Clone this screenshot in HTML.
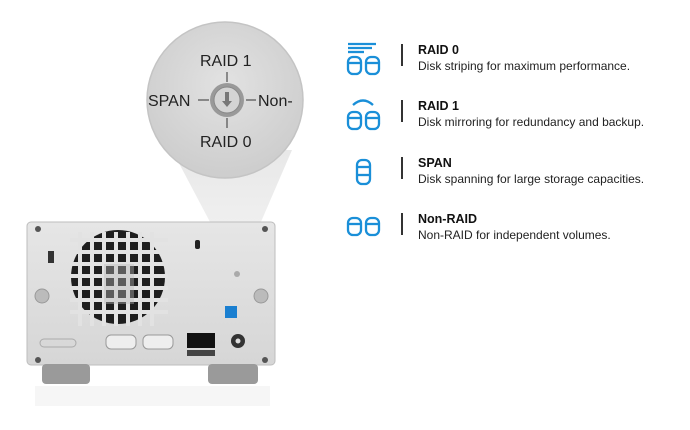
<!DOCTYPE html>
<html><head><style>
body{margin:0;width:690px;height:430px;background:#fff;overflow:hidden;font-family:"Liberation Sans",sans-serif;position:relative}
.t{position:absolute;left:418px;font-size:12px;color:#222;line-height:16px}
.t b{display:block;font-size:12.5px;color:#111}
.d{position:absolute;left:401px;width:1.5px;height:22px;background:#333}
</style></head><body>
<svg width="690" height="430" style="position:absolute;left:0;top:0">
<defs>
<radialGradient id="cg" cx="50%" cy="40%" r="60%"><stop offset="0" stop-color="#e2e2e2"/><stop offset="1" stop-color="#cdcdcd"/></radialGradient>
<linearGradient id="cone" x1="0" y1="0" x2="0" y2="1"><stop offset="0" stop-color="#e8e8e8"/><stop offset="1" stop-color="#f4f4f4"/></linearGradient>
<linearGradient id="body" x1="0" y1="0" x2="0" y2="1"><stop offset="0" stop-color="#e6e6e6"/><stop offset="1" stop-color="#d6d6d6"/></linearGradient>
</defs>
<polygon points="172,150 292,150 238,275" fill="url(#cone)"/>
<rect x="27" y="222" width="248" height="143" rx="4" fill="url(#body)" stroke="#bdbdbd"/>
<rect x="42" y="364" width="48" height="20" rx="4" fill="#9a9a9a"/>
<rect x="208" y="364" width="50" height="20" rx="4" fill="#9a9a9a"/>
<rect x="35" y="386" width="235" height="20" fill="#f6f6f6"/>
<circle cx="118" cy="277" r="47" fill="#1e1e1e"/>
<g stroke="#e2e2e2" stroke-width="4">
<line x1="80" y1="232" x2="80" y2="326"/><line x1="92" y1="232" x2="92" y2="326"/><line x1="104" y1="232" x2="104" y2="326"/><line x1="116" y1="232" x2="116" y2="326"/><line x1="128" y1="232" x2="128" y2="326"/><line x1="140" y1="232" x2="140" y2="326"/><line x1="152" y1="232" x2="152" y2="326"/>
<line x1="70" y1="240" x2="168" y2="240"/><line x1="70" y1="252" x2="168" y2="252"/><line x1="70" y1="264" x2="168" y2="264"/><line x1="70" y1="276" x2="168" y2="276"/><line x1="70" y1="288" x2="168" y2="288"/><line x1="70" y1="300" x2="168" y2="300"/><line x1="70" y1="312" x2="168" y2="312"/>
</g>
<rect x="104" y="264" width="30" height="40" fill="#bbb" opacity=".4"/>
<circle cx="38" cy="229" r="3" fill="#555"/><circle cx="265" cy="229" r="3" fill="#555"/>
<circle cx="38" cy="360" r="3" fill="#555"/><circle cx="265" cy="360" r="3" fill="#555"/>
<circle cx="42" cy="296" r="7" fill="#bbb" stroke="#999"/><circle cx="261" cy="296" r="7" fill="#bbb" stroke="#999"/>
<rect x="48" y="251" width="6" height="12" fill="#333"/>
<rect x="195" y="240" width="5" height="9" rx="2" fill="#222"/>
<circle cx="237" cy="274" r="3" fill="#aaa"/>
<rect x="225" y="306" width="12" height="12" fill="#1a7fd0"/>
<rect x="106" y="335" width="30" height="14" rx="5" fill="#eee" stroke="#999"/>
<rect x="143" y="335" width="30" height="14" rx="5" fill="#eee" stroke="#999"/>
<rect x="187" y="333" width="28" height="15" fill="#111"/>
<rect x="187" y="350" width="28" height="6" fill="#444"/>
<circle cx="238" cy="341" r="7" fill="#333"/><circle cx="238" cy="341" r="2.5" fill="#ddd"/>
<rect x="40" y="339" width="36" height="8" rx="4" fill="none" stroke="#aaa"/>
<circle cx="225" cy="100" r="78" fill="url(#cg)" stroke="#c4c4c4" stroke-width="1.5"/>
<circle cx="227" cy="100" r="17" fill="#999"/><circle cx="227" cy="100" r="13" fill="#d4d4d4" stroke="#888"/>
<path d="M225 92h4v9h3l-5 6-5-6h3z" fill="#777"/>
<g stroke="#333" stroke-width="1"><line x1="227" y1="72" x2="227" y2="82"/><line x1="227" y1="118" x2="227" y2="128"/><line x1="198" y1="100" x2="209" y2="100"/><line x1="246" y1="100" x2="256" y2="100"/></g>
<g font-family="Liberation Sans,sans-serif" font-size="16" fill="#222">
<text x="200" y="66">RAID 1</text><text x="200" y="147">RAID 0</text><text x="148" y="106">SPAN</text><text x="258" y="106">Non-</text>
</g>
<g fill="none" stroke="#1a8fd8" stroke-width="2.3">
<line x1="348" y1="44" x2="376" y2="44"/><line x1="348" y1="48" x2="372" y2="48"/><line x1="348" y1="52" x2="364" y2="52"/>
<rect x="348" y="57" width="13" height="17" rx="5"/><line x1="348" y1="63" x2="361" y2="63"/>
<rect x="366" y="57" width="13" height="17" rx="5"/><line x1="366" y1="63" x2="379" y2="63"/>
<path d="M353 105 Q363 96 373 105"/>
<rect x="348" y="112" width="13" height="17" rx="5"/><line x1="348" y1="118" x2="361" y2="118"/>
<rect x="366" y="112" width="13" height="17" rx="5"/><line x1="366" y1="118" x2="379" y2="118"/>
<rect x="357" y="160" width="13" height="24" rx="5"/><line x1="357" y1="167" x2="370" y2="167"/><line x1="357" y1="175" x2="370" y2="175"/>
<rect x="348" y="218" width="13" height="17" rx="5"/><line x1="348" y1="224" x2="361" y2="224"/>
<rect x="366" y="218" width="13" height="17" rx="5"/><line x1="366" y1="224" x2="379" y2="224"/>
</g>
</svg>
<div class="d" style="top:44px"></div><div class="t" style="top:42px"><b>RAID 0</b>Disk striping for maximum performance.</div>
<div class="d" style="top:100px"></div><div class="t" style="top:98px"><b>RAID 1</b>Disk mirroring for redundancy and backup.</div>
<div class="d" style="top:157px"></div><div class="t" style="top:155px"><b>SPAN</b>Disk spanning for large storage capacities.</div>
<div class="d" style="top:213px"></div><div class="t" style="top:211px"><b>Non-RAID</b>Non-RAID for independent volumes.</div>
</body></html>
